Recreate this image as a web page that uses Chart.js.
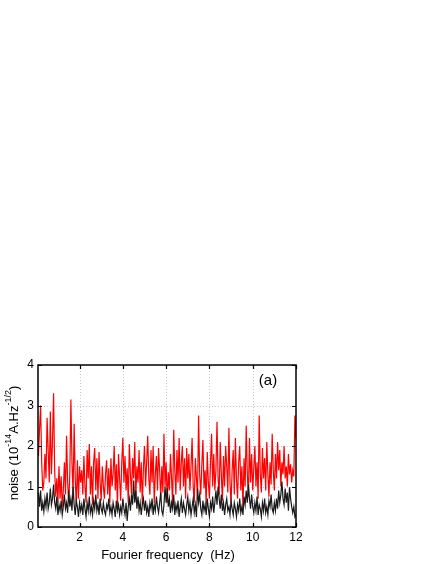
<!DOCTYPE html>
<html>
<head>
<meta charset="utf-8">
<script src="https://cdn.jsdelivr.net/npm/chart.js@4/dist/chart.umd.min.js"></script>
<style>
html,body{margin:0;padding:0;background:#fff;}
canvas{display:block;}
</style>
</head>
<body>
<canvas id="c" width="436" height="564" style="width:436px;height:564px"></canvas>
<script>
// ---- data ----
const freqStart = 0.1;   // Hz, first sample
const freqStep = 0.05;   // Hz, sample spacing
const xTicks = [2, 4, 6, 8, 10, 12];
const yTicks = [0, 1, 2, 3, 4];
const xGrid = [2, 4, 6, 8, 10];
const yGrid = [1, 2, 3];

const redNoise = [
 1.75,2.4,3.0,1.6,0.9,1.1,1.8,1.2,2.7,1.9,1.1,2.85,1.3,2.1,3.3,1.4,0.75,1.2,0.6,1.5,
 0.7,1.25,0.5,0.9,1.6,0.8,2.25,1.1,0.6,1.3,3.15,1.6,0.8,2.55,1.2,0.5,1.65,0.7,1.5,1.1,
 1.4,0.8,1.75,1.0,0.6,1.9,1.2,2.05,0.8,1.5,0.55,1.6,1.95,0.9,1.7,0.7,1.85,1.1,0.65,1.5,
 1.0,0.7,1.3,1.65,0.8,1.45,0.6,1.7,1.0,1.3,2.0,0.9,1.55,0.5,1.8,1.2,0.65,1.6,2.2,1.1,
 1.75,0.9,1.45,0.6,2.05,1.3,0.8,1.7,1.2,2.1,0.75,1.5,1.1,1.9,0.85,1.6,0.55,1.45,2.0,1.0,
 1.6,2.25,1.2,0.8,1.9,1.1,2.0,0.6,1.3,1.75,0.9,1.95,1.4,0.7,1.5,0.85,2.3,1.0,1.6,0.6,
 1.35,0.9,1.8,1.2,0.55,2.4,1.4,0.8,1.9,1.1,2.2,0.9,1.6,2.0,1.0,1.7,0.7,1.95,1.2,1.8,
 0.9,1.5,2.2,1.0,0.6,1.7,1.2,0.75,2.75,1.3,0.8,1.55,2.15,0.95,1.4,0.55,1.85,1.1,0.7,1.6,
 2.3,1.0,1.8,0.9,1.4,2.6,1.2,0.8,2.1,1.3,0.65,1.75,1.0,2.0,1.5,0.85,2.45,1.1,0.6,1.4,
 1.9,0.8,2.2,1.2,0.7,1.6,2.0,0.9,1.5,0.45,1.7,1.0,2.5,1.3,0.75,2.2,1.1,1.8,0.9,1.45,
 2.0,1.0,1.6,0.7,2.75,1.3,0.85,1.95,1.2,1.7,0.9,2.1,1.3,0.75,1.6,1.05,2.3,1.4,0.9,1.8,
 1.2,2.1,1.4,1.9,1.0,1.6,1.3,2.0,1.2,1.5,1.0,1.8,1.3,1.55,1.1,1.4,1.25,2.75,2.2
];
const blackNoise = [
 0.85,0.5,0.9,0.4,0.6,0.38,0.7,0.5,0.85,0.45,0.6,0.95,0.55,0.7,1.05,0.6,0.45,0.75,0.3,0.55,
 0.4,0.65,0.3,0.5,0.8,0.45,0.6,0.35,0.9,0.5,0.7,0.4,1.0,0.55,0.3,0.65,0.5,0.25,0.6,0.4,
 0.55,0.3,0.7,0.45,0.25,0.6,0.4,0.75,0.35,0.5,0.3,0.65,0.45,0.8,0.4,0.55,0.3,0.7,0.45,0.35,
 0.6,0.4,0.3,0.55,0.45,0.7,0.35,0.5,0.3,0.6,0.45,0.25,0.65,0.4,0.55,0.3,0.5,0.35,0.7,0.45,
 0.3,0.6,0.15,0.5,0.7,0.4,0.8,0.55,1.15,0.6,0.9,0.45,0.75,0.4,0.6,0.3,0.55,0.7,0.4,0.65,
 0.35,0.5,0.25,0.6,0.45,0.7,0.3,0.55,0.4,0.75,0.5,0.35,0.6,0.85,0.4,0.3,0.55,1.0,0.6,0.95,
 0.5,0.7,0.35,0.6,0.45,0.8,0.3,0.55,0.4,0.65,0.25,0.5,0.7,0.35,0.6,0.45,0.3,0.55,0.75,0.4,
 0.6,0.3,0.5,0.7,0.35,0.55,0.25,0.95,0.6,0.8,0.45,0.3,0.65,0.4,0.55,0.3,0.7,0.45,0.25,0.6,
 0.45,0.75,0.35,0.6,0.9,0.55,1.0,0.7,0.45,0.8,0.4,0.6,0.3,0.55,0.7,0.4,0.5,0.3,0.65,0.45,
 0.3,0.6,0.45,0.25,0.55,0.4,0.7,0.35,0.5,0.3,0.75,0.55,0.9,0.6,1.05,0.7,0.45,0.8,0.5,0.35,
 0.6,0.4,0.75,0.3,0.55,0.45,0.25,0.6,0.4,0.7,0.35,0.5,0.3,0.65,0.5,0.8,0.45,0.35,0.6,0.4,
 0.7,0.45,0.9,0.6,0.8,1.12,0.7,0.55,0.95,0.6,0.85,0.4,0.98,0.7,0.5,0.35,0.5,0.25,0.3
];

const freqs = redNoise.map((_, i) => +(freqStart + freqStep * i).toFixed(2));
const toPoints = arr => arr.map((v, i) => ({x: freqs[i], y: v}));

const FONT = '"Liberation Sans", Arial, Helvetica, sans-serif';

const framePlugin = {
  id: 'frame',
  beforeDatasetsDraw(chart) {
    const {ctx, chartArea: a, scales: {x, y}} = chart;
    ctx.save();
    ctx.strokeStyle = '#c4c4f2';
    ctx.lineWidth = 1;
    ctx.setLineDash([1, 2]);
    xGrid.forEach(v => {
      const px = Math.round(x.getPixelForValue(v)) + 0.5;
      ctx.beginPath(); ctx.moveTo(px, a.top); ctx.lineTo(px, a.bottom); ctx.stroke();
    });
    yGrid.forEach(v => {
      const py = Math.round(y.getPixelForValue(v)) + 0.5;
      ctx.beginPath(); ctx.moveTo(a.left, py); ctx.lineTo(a.right, py); ctx.stroke();
    });
    ctx.restore();
  },
  afterDraw(chart) {
    const {ctx, chartArea: a, scales: {x, y}} = chart;
    ctx.save();
    ctx.strokeStyle = '#000';
    ctx.lineWidth = 1.5;
    ctx.strokeRect(a.left, a.top, a.right - a.left, a.bottom - a.top);
    ctx.lineWidth = 1.2;
    const tl = 4;
    xTicks.forEach(v => {
      const px = Math.round(x.getPixelForValue(v)) + 0.5;
      ctx.beginPath();
      ctx.moveTo(px, a.bottom); ctx.lineTo(px, a.bottom - tl);
      ctx.moveTo(px, a.top); ctx.lineTo(px, a.top + tl);
      ctx.stroke();
    });
    yTicks.forEach(v => {
      const py = Math.round(y.getPixelForValue(v)) + 0.5;
      ctx.beginPath();
      ctx.moveTo(a.left, py); ctx.lineTo(a.left + tl, py);
      ctx.moveTo(a.right, py); ctx.lineTo(a.right - tl, py);
      ctx.stroke();
    });
    // panel label
    ctx.fillStyle = '#000';
    ctx.font = '15px ' + FONT;
    ctx.textAlign = 'center';
    ctx.textBaseline = 'middle';
    ctx.fillText('(a)', 268, 381);
    // x title
    ctx.font = '13px ' + FONT;
    ctx.fillText('Fourier frequency  (Hz)', 168, 555);
    // y title with superscripts
    const parts = [
      {t: 'noise (10', s: false},
      {t: '-14', s: true},
      {t: 'A.Hz', s: false},
      {t: '-1/2', s: true},
      {t: ')', s: false}
    ];
    const nf = '13px ' + FONT, sf = '9px ' + FONT;
    let total = 0;
    parts.forEach(p => { ctx.font = p.s ? sf : nf; p.w = ctx.measureText(p.t).width; total += p.w; });
    ctx.translate(14, 443);
    ctx.rotate(-Math.PI / 2);
    ctx.textAlign = 'left';
    ctx.textBaseline = 'middle';
    let cx = -total / 2;
    parts.forEach(p => {
      ctx.font = p.s ? sf : nf;
      ctx.fillText(p.t, cx, p.s ? -5 : 0);
      cx += p.w;
    });
    ctx.restore();
  }
};

new Chart(document.getElementById('c'), {
  type: 'line',
  data: {
    datasets: [
      {label: 'black', data: toPoints(blackNoise), borderColor: '#1a1a1a', borderWidth: 1.2, pointRadius: 0, tension: 0, order: 0},
      {label: 'red', data: toPoints(redNoise), borderColor: '#ff0000', borderWidth: 1.2, pointRadius: 0, tension: 0, order: 1}
    ]
  },
  options: {
    responsive: false,
    devicePixelRatio: 1,
    animation: false,
    events: [],
    layout: {padding: {top: 365, right: 140, left: 0, bottom: 0}},
    plugins: {legend: {display: false}, tooltip: {enabled: false}, title: {display: false}},
    scales: {
      x: {
        type: 'linear',
        min: freqStart - 0.02,
        max: 12,
        grid: {display: false, drawTicks: false},
        border: {display: false},
        afterBuildTicks: s => { s.ticks = xTicks.map(v => ({value: v})); },
        afterFit: s => { s.height = 37; },
        ticks: {color: '#000', font: {family: FONT, size: 12}, padding: 3, maxRotation: 0, autoSkip: false}
      },
      y: {
        type: 'linear',
        min: 0,
        max: 4,
        grid: {display: false, drawTicks: false},
        border: {display: false},
        afterBuildTicks: s => { s.ticks = yTicks.map(v => ({value: v})); },
        afterFit: s => { s.width = 38; },
        ticks: {color: '#000', font: {family: FONT, size: 12}, padding: 4}
      }
    }
  },
  plugins: [framePlugin]
});
</script>
</body>
</html>
